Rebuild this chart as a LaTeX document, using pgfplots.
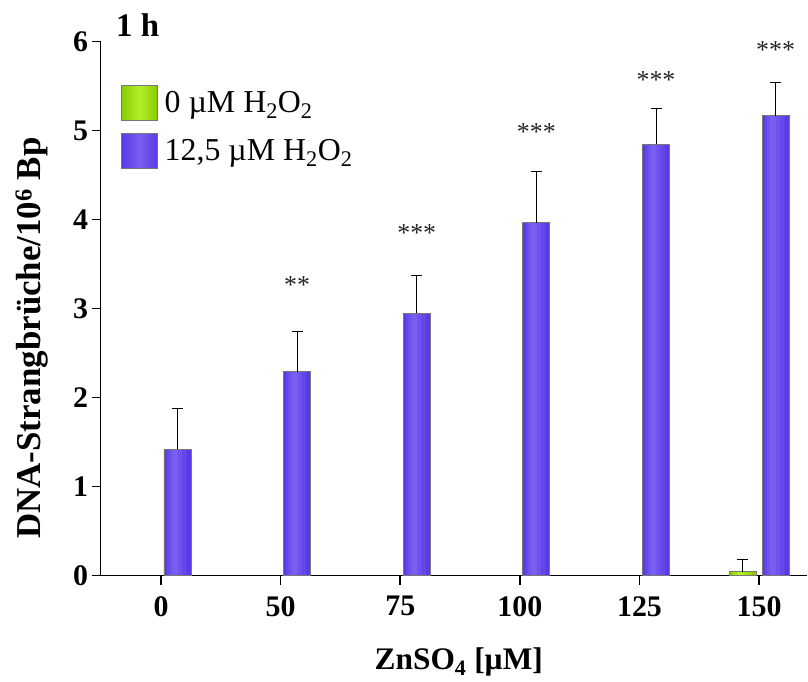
\documentclass[border=0pt]{standalone}
\usepackage{pgfplots}
\usepackage{pgfplotstable}
\pgfplotsset{compat=1.18}
\usepackage{fontspec}
\setmainfont{Liberation Serif}

\definecolor{violetA}{HTML}{5A3AE6}
\definecolor{violetB}{HTML}{6446EA}
\definecolor{violetC}{HTML}{6E52ED}
\definecolor{violetD}{HTML}{795EF0}
\definecolor{greenA}{HTML}{8ACB00}
\definecolor{greenB}{HTML}{99D80E}
\definecolor{greenC}{HTML}{A7E31D}
\definecolor{greenD}{HTML}{B4EE2C}
\definecolor{baroutline}{HTML}{777777}

% DNA strand breaks per 10^6 bp after 1 h, mean and upper SD
\pgfplotstableread{
x y err
0 0 0
1 0 0
2 0 0
3 0 0
4 0 0
5 0.045 0.135
}\ctrltable
\pgfplotstableread{
x y err
0 1.42 0.46
1 2.29 0.45
2 2.95 0.42
3 3.965 0.575
4 4.85 0.40
5 5.17 0.37
}\peroxtable

\pgfplotsset{
  % one fill layer of a bar; narrower lighter layers give the cylinder look
  layer/.style n args={3}{ybar, bar width=#1, bar shift=#2, draw=none, fill=#3, forget plot},
  % outline of the bars plus the upper SD
  outline/.style n args={4}{ybar, bar width=27bp, bar shift=#1, draw=baroutline, fill=none,
    line width=0.8bp,
    legend image code/.code={\draw[draw=baroutline, line width=0.8bp, left color=#2,
      right color=#2, middle color=#3] (0bp,-17.5bp) rectangle (36bp,17.5bp);},
    error bars/y dir=plus, error bars/y explicit,
    error bars/error bar style={line width=1bp, draw=black, xshift=#4},
    error bars/error mark options={rotate=90, mark size=5.5bp, line width=1bp, draw=black}},
}

\newcommand\figfont{\fontsize{30}{30}\selectfont}

\begin{document}
\begin{tikzpicture}
\begin{axis}[
  scale only axis, width=706.3bp, height=534bp,
  xmin=-0.504, xmax=5.40, ymin=0, ymax=6,
  clip=false,
  axis x line*=bottom, axis y line*=left,
  axis line style={-, line width=1.6bp, black},
  xtick={0,...,5}, xticklabels={0,50,75,100,125,150},
  ytick={0,...,6},
  xtick pos=bottom, ytick pos=left,
  tick align=outside, major tick length=9bp,
  tick style={line width=1.6bp, black},
  /pgf/number format/assume math mode=true,
  ticklabel style={font=\figfont\bfseries},
  xticklabel style={yshift=-8bp},
  xlabel={ZnSO\textsubscript{4} [µM]},
  ylabel={DNA-Strangbrüche/10\textsuperscript{6} Bp},
  xlabel style={font=\fontsize{31.5}{31.5}\selectfont\bfseries,
    at={(rel axis cs:0.507,0)}, anchor=center, yshift=-86bp},
  ylabel style={font=\fontsize{35}{35}\selectfont\bfseries,
    at={([xshift=-68.7bp]rel axis cs:0,0.445)}, anchor=center},
  legend style={at={(rel axis cs:0,1)}, anchor=north west, xshift=20bp, yshift=-43bp,
    draw=none, fill=none, font=\fontsize{32}{32}\selectfont, row sep=12bp, column sep=5bp,
    inner sep=0pt},
  legend cell align=left,
]
% 0 uM H2O2
\addplot[layer={27bp}{-16.5bp}{greenA}, skip coords between index={0}{5}] table[x=x, y=y] {\ctrltable};
\addplot[layer={20bp}{-17.5bp}{greenB}, skip coords between index={0}{5}] table[x=x, y=y] {\ctrltable};
\addplot[layer={13bp}{-18.5bp}{greenC}, skip coords between index={0}{5}] table[x=x, y=y] {\ctrltable};
\addplot[layer={6bp}{-19bp}{greenD}, skip coords between index={0}{5}] table[x=x, y=y] {\ctrltable};
\addplot[outline={-16.5bp}{greenA}{greenD}{-16.5bp}, skip coords between index={0}{5}]
  table[x=x, y=y, y error=err] {\ctrltable};
\addlegendentry{0 µM H\textsubscript{2}O\textsubscript{2}}

% 12,5 uM H2O2
\addplot[layer={27bp}{16.5bp}{violetA}] table[x=x, y=y] {\peroxtable};
\addplot[layer={20bp}{15.5bp}{violetB}] table[x=x, y=y] {\peroxtable};
\addplot[layer={13bp}{14.5bp}{violetC}] table[x=x, y=y] {\peroxtable};
\addplot[layer={6bp}{14bp}{violetD}] table[x=x, y=y] {\peroxtable};
\addplot[outline={16.5bp}{violetA}{violetD}{16.5bp}] table[x=x, y=y, y error=err] {\peroxtable};
\addlegendentry{12,5 µM H\textsubscript{2}O\textsubscript{2}}

% significance marks
\begin{scope}[every node/.style={font=\fontsize{26}{26}\selectfont, text=black!85, anchor=base, xshift=16.5bp, yshift=-13bp}]
\node at (axis cs:1,3.319) {**};
\node at (axis cs:2,3.898) {***};
\node at (axis cs:3,5.033) {***};
\node at (axis cs:4,5.623) {***};
\node at (axis cs:5,5.960) {***};
\end{scope}

\node[anchor=base west, font=\fontsize{33}{33}\selectfont\bfseries, xshift=12bp, yshift=4.7bp] at (rel axis cs:0,1) {1 h};
\end{axis}
\path (current axis.south west) ++(-100.7bp,-106.3bp) rectangle ([xshift=1bp,yshift=41.7bp]current axis.north east);
\end{tikzpicture}
\end{document}
